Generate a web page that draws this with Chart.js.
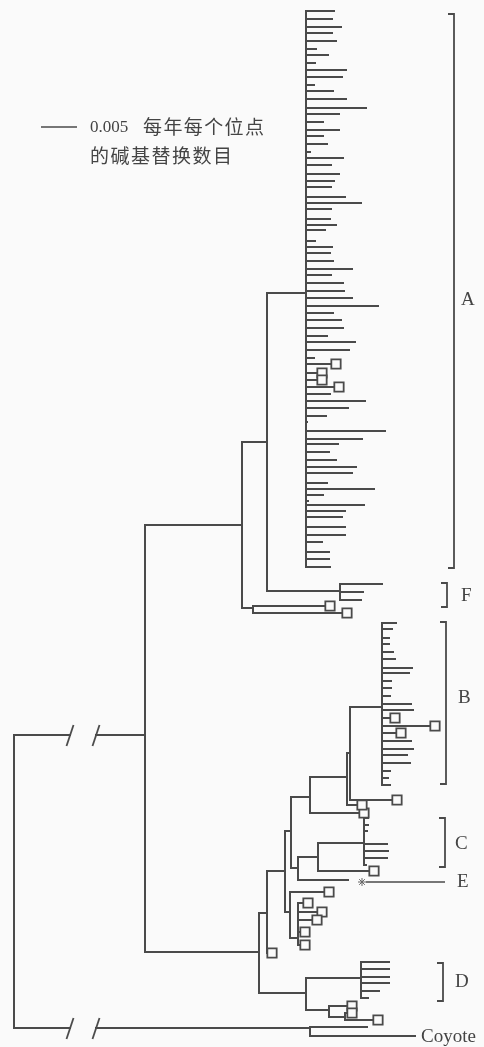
<!DOCTYPE html>
<html>
<head>
<meta charset="utf-8">
<script src="https://cdn.jsdelivr.net/npm/chart.js@4.4.1/dist/chart.umd.min.js"></script>
<style>
  html, body { margin: 0; padding: 0; background: #fafafa; }
  #wrap { position: relative; width: 484px; height: 1047px; }
</style>
</head>
<body>
<div id="wrap"><canvas id="tree"></canvas></div>
<script>
// depth = position along the divergence axis, row = vertical slot of a branch
// internal nodes of the tree
const nodeName   = ['root','ingroup','n1','n2','A','F','pairF','n7','n8','P','U','S','T','Bp','B','V','W','C','R','X','D0','D','Dn','Dn2','coy'];
const nodeParent = [null,'root','ingroup','n1','n2','n2','n1','ingroup','n7','n8','P','U','S','T','Bp','U','V','W','P','R','n7','D0','D0','Dn','root'];
const nodeDepth  = [14,145,242,267,306,340,253,259,267,285,291,310,347,350,382,298,318,364,290,298,306,361,329,345,310];
const nodeRow    = [null,735,525,442,293,591,608,952,913,871,831,797,777,753,707,868,857,843,912,938,993,978,1010,1017,1028];

// clade A
const aTipRow   = [11,19,27,33,41,49,55,63,70,77,85,91,99,108,114,122,130,136,144,152,158,165,174,181,187,197,203,209,219,225,230,241,247,253,261,269,275,283,291,298,306,313,320,328,336,342,350,358,
                   394,401,408,416,422,431,439,444,452,460,467,473,483,489,495,501,505,511,517,527,535,542,552,559,567];
const aTipDepth = [334,332,341,332,336,316,328,315,346,342,314,333,346,366,339,323,339,323,327,310,343,331,339,334,331,345,361,331,330,336,325,315,332,330,333,352,331,343,344,352,378,333,341,343,327,355,349,314,
                   330,365,348,326,307,385,362,338,329,336,356,352,327,374,323,308,364,345,342,345,345,322,329,329,330];
const aBoxRow   = [364,373,380,387];
const aBoxDepth = [336,322,322,339];
// clade F
const fTipRow   = [584,592,600];
const fTipDepth = [382,363,361];
// clade B
const bTipRow   = [623,629,638,644,652,659,668,673,681,688,696,704,710,741,749,755,763,771,778,785];
const bTipDepth = [396,392,389,389,393,395,412,409,391,391,390,411,413,411,413,407,410,390,388,390];
const bBoxRow   = [718,726,733];
const bBoxDepth = [395,435,401];
// clade C
const cTipRow   = [818,825,831,844,851,858,865];
const cTipDepth = [368,368,367,387,388,387,366];
// E
const eTipRow   = [880];
const eTipDepth = [348];
// clade D
const dTipRow   = [962,969,977,983,991,998];
const dTipDepth = [389,389,389,389,379,368];
// Coyote outgroup
const coyTipRow   = [1027,1036];
const coyTipDepth = [367,415];
// single haplotypes (boxes) hanging from internal nodes
const boxParent = ['pairF','pairF','n8','S','T','Bp','W','R','X','X','X','X','X','Dn','Dn2','Dn2'];
const boxRow    = [606,613,953,813,805,800,871,892,903,912,920,932,945,1006,1013,1020];
const boxDepth  = [330,347,272,364,362,397,374,329,308,322,317,305,305,352,352,378];

// labels
const cladeLabel  = ['A','F','B','C','D'];
const cladeTop    = [14,583,622,818,963];
const cladeBottom = [568,607,784,867,1001];
const breakDepths = [70, 96];   // axis break on the two root branches
const scaleBar    = 0.005;
const scaleText1  = '每年每个位点';
const scaleText2  = '的碱基替换数目';

// ---- build the tree ----
var tips = [];
function addTips(parent, rows, depths, box) {
    rows.forEach(function(r, i) { tips.push({ parent: parent, row: r, depth: depths[i], box: box }) })
}
addTips('A', aTipRow, aTipDepth, false)
addTips('A', aBoxRow, aBoxDepth, true)
addTips('F', fTipRow, fTipDepth, false)
addTips('B', bTipRow, bTipDepth, false)
addTips('B', bBoxRow, bBoxDepth, true)
addTips('C', cTipRow, cTipDepth, false)
addTips('V', eTipRow, eTipDepth, false)
addTips('D', dTipRow, dTipDepth, false)
addTips('coy', coyTipRow, coyTipDepth, false)
boxParent.forEach(function(p, i) { tips.push({ parent: p, row: boxRow[i], depth: boxDepth[i], box: true }) })

var depthOf = {};
nodeName.forEach(function(n, i) { depthOf[n] = nodeDepth[i] })

var segs = [];
function seg(x0, y0, x1, y1) {
    segs.push({ x: x0, y: y0 }, { x: x1, y: y1 }, { x: x1, y: null })
}

nodeName.forEach(function(n, i) {
    var rows = [];
    nodeName.forEach(function(m, j) { if (nodeParent[j] === n) rows.push(nodeRow[j]) })
    tips.forEach(function(t) { if (t.parent === n) rows.push(t.row) })
    seg(nodeDepth[i], Math.min.apply(null, rows), nodeDepth[i], Math.max.apply(null, rows))
    var p = nodeParent[i];
    if (p === null) return;
    if (p === 'root') {
        seg(depthOf[p], nodeRow[i], breakDepths[0], nodeRow[i])
        seg(breakDepths[1], nodeRow[i], nodeDepth[i], nodeRow[i])
    } else {
        seg(depthOf[p], nodeRow[i], nodeDepth[i], nodeRow[i])
    }
})
tips.forEach(function(t) { seg(depthOf[t.parent], t.row, t.depth, t.row) })

var boxes = tips.filter(function(t) { return t.box }).map(function(t) { return { x: t.depth, y: t.row } })

var ink = '#4a4a4a';

var labelsPlugin = {
    id: 'treeLabels',
    beforeDraw: function(chart) {
        var ctx = chart.ctx;
        ctx.save();
        ctx.fillStyle = '#fafafa';
        ctx.fillRect(0, 0, chart.width, chart.height);
        ctx.restore();
    },
    afterDatasetsDraw: function(chart) {
        var ctx = chart.ctx, xs = chart.scales.x, ys = chart.scales.y;
        var X = function(v) { return xs.getPixelForValue(v) }, Y = function(v) { return ys.getPixelForValue(v) };
        ctx.save();
        ctx.strokeStyle = ink;
        ctx.fillStyle = '#444';
        ctx.lineWidth = 1.8;

        // axis break slashes
        [735, 1028].forEach(function(r) {
            breakDepths.forEach(function(d) {
                ctx.beginPath();
                ctx.moveTo(X(d) - 3.5, Y(r) + 11);
                ctx.lineTo(X(d) + 3.5, Y(r) - 10);
                ctx.stroke();
            })
        })

        // clade brackets
        var bx = [454, 447, 446, 445, 443], lx = [461, 461, 458, 455, 455], ly = [300, 596, 698, 844, 982];
        ctx.font = '19px "Liberation Serif", serif';
        ctx.textBaseline = 'middle';
        ctx.textAlign = 'left';
        cladeLabel.forEach(function(lab, i) {
            ctx.beginPath();
            ctx.moveTo(X(bx[i] - 6), Y(cladeTop[i]));
            ctx.lineTo(X(bx[i]), Y(cladeTop[i]));
            ctx.lineTo(X(bx[i]), Y(cladeBottom[i]));
            ctx.lineTo(X(bx[i] - 6), Y(cladeBottom[i]));
            ctx.stroke();
            ctx.fillText(lab, X(lx[i]), Y(ly[i]));
        })

        // E pointer
        ctx.lineWidth = 1.5;
        ctx.beginPath();
        ctx.moveTo(X(366), Y(882));
        ctx.lineTo(X(445), Y(882));
        ctx.stroke();
        ctx.fillText('E', X(457), Y(882));
        ctx.fillText('Coyote', X(421), Y(1037));

        // scale bar
        ctx.lineWidth = 1.6;
        ctx.beginPath();
        ctx.moveTo(X(41), Y(127));
        ctx.lineTo(X(77), Y(127));
        ctx.stroke();
        ctx.fillStyle = '#444';
        ctx.font = '17px "Liberation Serif", serif';
        ctx.fillText(String(scaleBar), X(90), Y(128));
        ctx.font = '19px "Noto Sans CJK SC", sans-serif';
        scaleText1.split('').forEach(function(ch, i) { ctx.fillText(ch, X(143) + i * 20.4, Y(127)) })
        scaleText2.split('').forEach(function(ch, i) { ctx.fillText(ch, X(90) + i * 20.5, Y(156)) })
        ctx.restore();
    }
};

new Chart(document.getElementById('tree').getContext('2d'), {
    type: 'line',
    data: {
        datasets: [{
            label: 'haplotypes',
            data: boxes,
            showLine: false,
            pointStyle: 'rect',
            pointRadius: 6.6,
            pointBorderWidth: 1.8,
            pointBorderColor: ink,
            pointBackgroundColor: '#fafafa',
            order: 0
        }, {
            label: 'E',
            data: [{ x: 362, y: 882 }],
            showLine: false,
            pointStyle: 'star',
            pointRadius: 4,
            pointBorderWidth: 1,
            pointBorderColor: '#666',
            order: 1
        }, {
            label: 'branches',
            data: segs,
            borderColor: ink,
            borderWidth: 2,
            borderCapStyle: 'square',
            pointRadius: 0,
            spanGaps: false,
            tension: 0,
            order: 2
        }]
    },
    options: {
        responsive: true,
        maintainAspectRatio: false,
        animation: false,
        events: [],
        layout: { padding: 0, autoPadding: false },
        plugins: { legend: { display: false }, tooltip: { enabled: false } },
        scales: {
            x: { type: 'linear', display: false, min: 0, max: 484 },
            y: { type: 'linear', display: false, min: 0, max: 1047, reverse: true }
        }
    },
    plugins: [labelsPlugin]
});
</script>
</body>
</html>
